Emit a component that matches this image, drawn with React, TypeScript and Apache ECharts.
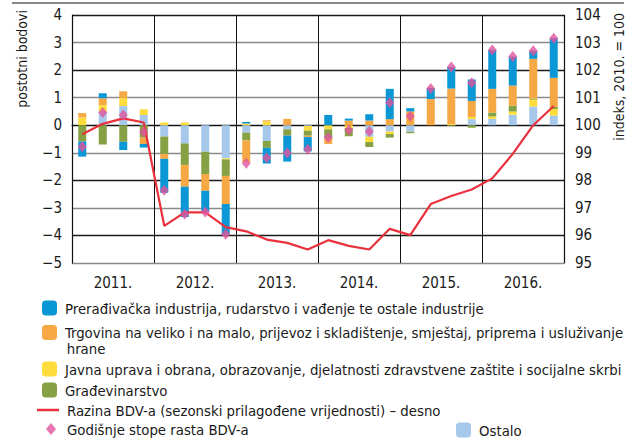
import React, { useEffect, useRef } from "react";
import * as echarts from "echarts";

const quarters = [
  "2011Q1","2011Q2","2011Q3","2011Q4","2012Q1","2012Q2","2012Q3","2012Q4",
  "2013Q1","2013Q2","2013Q3","2013Q4","2014Q1","2014Q2","2014Q3","2014Q4",
  "2015Q1","2015Q2","2015Q3","2015Q4","2016Q1","2016Q2","2016Q3","2016Q4",
];
const years = ["2011.", "2012.", "2013.", "2014.", "2015.", "2016."];

const ostalo = [0, 0.5, 0.7, 0.37, -0.41, -0.66, -0.96, -1.2, -0.27, -0.57, -0.15, -0.03, 0, 0, -0.42, -0.23, -0.24, 0, 0, 0.22, 0.23, 0.38, 0.68, 0.35];
const javna = [0.28, 0.23, 0.28, 0.21, 0.1, 0.1, 0, -0.04, 0.06, 0.14, 0, -0.17, -0.15, -0.1, -0.19, -0.09, 0, 0, 0.04, 0.08, 0.09, 0.12, 0.25, 0.24];
const gradjevinarstvo = [-0.59, -0.7, -0.6, -0.45, -0.63, -0.78, -0.81, -0.6, -0.28, -0.25, -0.23, -0.18, -0.33, -0.3, -0.18, -0.13, -0.05, 0, -0.03, -0.09, 0.14, 0.21, 0.03, 0.07];
const trgovina = [0.16, 0.25, 0.25, -0.23, -0.18, -0.79, -0.61, -1.02, -0.78, 0.04, 0.23, -0.05, -0.2, 0.17, 0.17, 0.22, 0.5, 0.95, 1.29, 0.58, 0.86, 0.73, 1.45, 1.06];
const preradjivacka = [-0.55, 0.18, -0.3, -0.13, -1.23, -1.1, -0.77, -1.1, 0.06, -0.57, -0.94, -0.52, 0.37, 0.07, 0.23, 1.1, 0.12, 0.4, 0.78, 0.78, 1.41, 1.05, 0.29, 1.44];
const stopeRasta = [-0.78, 0.46, 0.37, -0.25, -2.36, -3.23, -3.15, -3.96, -1.38, -1.18, -1.01, -0.87, -0.45, -0.17, -0.23, 0.82, 0.33, 1.33, 2.11, 1.54, 2.73, 2.49, 2.7, 3.16];
const razinaBDV = [99.67, 100.05, 100.25, 100.1, 96.35, 96.84, 96.84, 96.3, 96.15, 95.85, 95.73, 95.49, 95.83, 95.62, 95.49, 96.24, 96.01, 97.14, 97.43, 97.67, 98.07, 98.96, 100.0, 100.7];

const N_BLUE = "Prerađivačka industrija, rudarstvo i vađenje te ostale industrije";
const N_ORANGE = "Trgovina na veliko i na malo, prijevoz i skladištenje, smještaj, priprema i usluživanje hrane";
const N_YELLOW = "Javna uprava i obrana, obrazovanje, djelatnosti zdravstvene zaštite i socijalne skrbi";
const N_GREEN = "Građevinarstvo";
const N_LINE = "Razina BDV-a (sezonski prilagođene vrijednosti) – desno";
const N_DIAMOND = "Godišnje stope rasta BDV-a";
const N_OSTALO = "Ostalo";

const FONT = "'DejaVu Sans Condensed', 'Liberation Sans Narrow', sans-serif";
const C_BLUE = "#0a97d6";
const C_ORANGE = "#f5a844";
const C_YELLOW = "#fddc3c";
const C_GREEN = "#85a143";
const C_LIGHT = "#a6c8ea";
const C_RED = "#e8313d";
const C_PINK = "#e0559e";

export default function App() {
  const ref = useRef<HTMLDivElement>(null);
  useEffect(() => {
    if (!ref.current) return;
    const chart = echarts.init(ref.current, null, { renderer: "svg" });
    const textStyle = { fontFamily: FONT, fontSize: 14.8, color: "#1a1a1a", lineHeight: 18, padding: [0, 0, 0, 3] };
    const leg = (item: any, left: number, top: number, w = 15, h = 15, extra: any = {}) => ({
      data: [item], left, top, itemWidth: w, itemHeight: h, padding: 0,
      textStyle: { ...textStyle, ...(extra.textStyle || {}) },
      selectedMode: false,
      ...extra.rest,
    });
    const barSeries = (name: string, data: number[], color: string) => ({
      name, type: "bar", stack: "a", data, barWidth: 8,
      xAxisIndex: 0, yAxisIndex: 0,
      itemStyle: { color },
    });
    chart.setOption({
      animation: false,
      textStyle: { fontFamily: FONT },
      grid: { left: 72, right: 72, top: 15, bottom: 180, containLabel: false },
      xAxis: [
        {
          type: "category", data: quarters, position: "bottom",
          axisLine: { show: true, lineStyle: { color: "#111", width: 1.2 } },
          axisTick: { show: false }, axisLabel: { show: false }, splitLine: { show: false },
        },
        {
          type: "category", data: years, position: "bottom",
          axisLine: { show: false }, axisTick: { show: false },
          axisLabel: { fontFamily: FONT, fontSize: 15, color: "#1a1a1a", margin: 12 },
          splitLine: { show: true, lineStyle: { color: "#111", width: 1 } },
        },
      ],
      yAxis: [
        {
          type: "value", min: -5, max: 4, interval: 1,
          axisLine: { show: true, lineStyle: { color: "#111", width: 1.2 } },
          axisTick: { show: false },
          axisLabel: { fontFamily: FONT, fontSize: 15, color: "#1a1a1a", margin: 10,
            formatter: (v: number) => (v < 0 ? "\u2212" + Math.abs(v) : String(v)) },
          splitLine: { show: true, lineStyle: { color: ["#8a8a8a", "#1a1a1a"], width: 1.3 } },
        },
        {
          type: "value", min: 95, max: 104, interval: 1, position: "right",
          axisLine: { show: true, lineStyle: { color: "#111", width: 1.2 } },
          axisTick: { show: false },
          axisLabel: { fontFamily: FONT, fontSize: 15, color: "#1a1a1a", margin: 11 },
          splitLine: { show: false },
        },
      ],
      legend: [
        leg(N_BLUE, 42, 299),
        leg(N_ORANGE, 42, 325, 15, 15, {
          textStyle: { lineHeight: 15 },
          rest: { formatter: () => "Trgovina na veliko i na malo, prijevoz i skladištenje, smještaj, priprema i usluživanje" },
        }),
        leg(N_YELLOW, 42, 360),
        leg(N_GREEN, 42, 381),
        leg({ name: N_LINE, icon: "rect", itemStyle: { color: C_RED } }, 37, 401, 22, 2.5),
        leg(N_DIAMOND, 46, 420, 10, 12, { textStyle: { padding: [0, 0, 0, 6] } }),
        leg(N_OSTALO, 456, 421),
      ],
      graphic: [
        { type: "line", shape: { x1: 12, y1: 3, x2: 624, y2: 3 }, style: { stroke: "#111", lineWidth: 1 } },
        { type: "text", x: 66.7, y: 348.5, style: { text: "hrane", font: `14.8px ${FONT}`, fill: "#1a1a1a", textVerticalAlign: "middle" } },
        { type: "text", x: 22, y: 10, rotation: Math.PI / 2, style: { text: "postotni bodovi", font: `14px ${FONT}`, fill: "#1a1a1a", textAlign: "right", textVerticalAlign: "middle" } },
        { type: "text", x: 619, y: 13, rotation: Math.PI / 2, style: { text: "indeks, 2010. = 100", font: `14px ${FONT}`, fill: "#1a1a1a", textAlign: "right", textVerticalAlign: "middle" } },
      ],
      series: [
        barSeries(N_OSTALO, ostalo, C_LIGHT),
        barSeries(N_YELLOW, javna, C_YELLOW),
        barSeries(N_GREEN, gradjevinarstvo, C_GREEN),
        barSeries(N_ORANGE, trgovina, C_ORANGE),
        barSeries(N_BLUE, preradjivacka, C_BLUE),
        {
          name: N_LINE, type: "line", data: razinaBDV, xAxisIndex: 0, yAxisIndex: 1,
          symbol: "none", lineStyle: { color: C_RED, width: 2.2 }, itemStyle: { color: C_RED }, z: 5,
        },
        {
          name: N_DIAMOND, type: "scatter", data: stopeRasta, xAxisIndex: 0, yAxisIndex: 0,
          symbol: "diamond", symbolSize: [9, 11], itemStyle: { color: C_PINK }, z: 6,
        },
      ],
    });
    return () => chart.dispose();
  }, []);
  return <div ref={ref} style={{ position: "absolute", left: 0, top: 0, width: 636, height: 443 }} />;
}
